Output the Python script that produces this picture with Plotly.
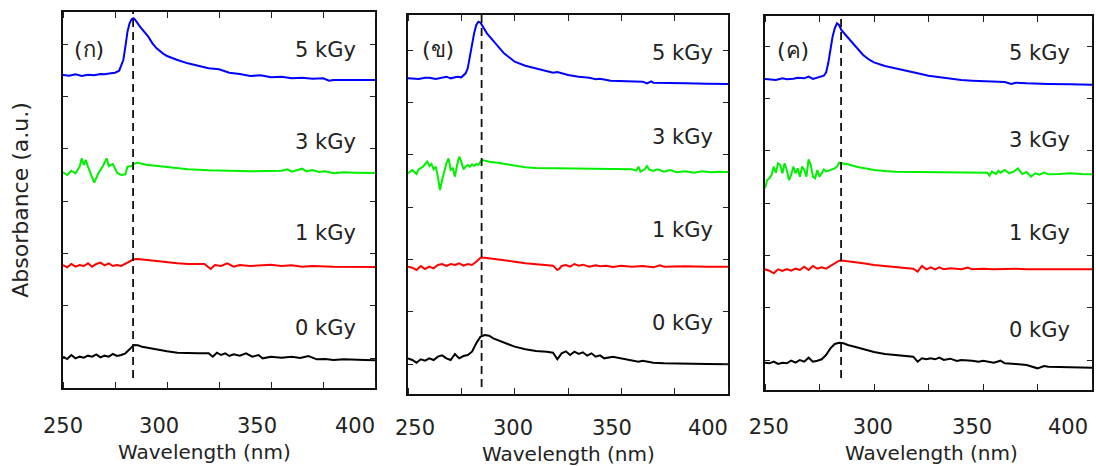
import plotly.graph_objects as go

# ---------------- data (arbitrary absorbance units, offset spectra) ----------------
panel_labels = ["(ก)", "(ข)", "(ค)"]
dose_labels = ["0 kGy", "1 kGy", "3 kGy", "5 kGy"]
peak_nm = [283.7, 284.5, 284.9]
tick_text = ["250", "300", "350", "400"]
minor_ticks = [250, 275, 300, 325, 350, 375, 400]

# ---- panel (ก) ----
wl_a_0 = [250,252,254,256,258,260,262,264,266,268,270,272,274,276,278,280,282,284,286,288,292,296,300,305,310,315,320,322,324,326,328,330,332,335,338,341,344,346,350,355,360,364,368,372,376,380,385,390,395,400]
ab_a_0 = [94,87,99,89,94,91,97,94,101,92,97,94,102,96,99,104,116,129,128,124,119,114,110,106,104,104,104,94,106,99,104,96,101,97,104,94,99,89,94,91,94,90,96,86,87,84,86,84,84,83]
wl_a_1 = [250,252,254,256,258,260,262,264,266,268,270,272,274,276,278,280,282,284,286,290,295,300,305,310,315,318,321,323,326,329,332,335,340,345,350,355,360,365,370,380,390,400]
ab_a_1 = [369,362,372,364,369,366,374,364,372,376,368,374,366,369,366,372,379,386,387,384,381,377,374,372,372,372,357,369,366,374,364,369,366,368,370,366,368,364,366,364,364,363]
wl_a_3 = [250,252,254,256,258,259,260,261,262,264,265,267,269,271,272,274,276,278,280,281,283,284,286,290,300,310,320,340,355,358,360,365,367,370,373,376,380,385,390,395,400]
ab_a_3 = [647,639,652,644,664,689,669,684,664,629,616,644,664,689,666,672,646,639,641,664,666,672,676,670,662,656,653,650,652,656,649,658,650,654,648,650,644,647,646,645,645]
wl_a_5 = [250,253,256,259,262,265,268,270,273,275,277,279,280,281,282,283,284,285,287,289,291,293,295,298,300,305,310,315,320,325,328,330,335,340,345,350,355,360,365,370,375,378,380,385,390,395,400]
ab_a_5 = [939,937,941,936,940,938,942,941,944,946,952,984,1024,1069,1094,1106,1109,1102,1084,1069,1054,1034,1019,1004,996,984,974,967,959,956,951,946,942,936,938,932,934,929,931,928,929,922,924,924,924,924,924]

# ---- panel (ข) ----
wl_b_0 = [250,252,254,256,258,260,262,264,266,268,270,272,274,276,278,280,282,284,286,288,290,292,295,300,305,310,315,318,320,322,324,326,328,330,332,334,336,338,340,342,346,350,353,355,358,360,365,370,375,380,390,400]
ab_b_0 = [107,102,94,104,100,107,102,112,116,107,102,120,107,114,117,127,152,172,177,175,167,162,154,142,134,129,127,124,104,122,128,117,127,120,125,115,122,112,116,107,112,107,102,100,97,100,94,92,92,90,90,89]
wl_b_1 = [250,252,254,256,258,260,262,264,266,268,270,272,274,276,278,280,282,284,286,290,295,300,305,310,315,318,320,321,322,324,326,328,330,332,335,338,340,343,346,350,355,360,365,368,370,375,380,390,400]
ab_b_1 = [382,379,372,384,375,382,377,387,390,384,390,387,392,385,390,387,397,409,409,406,402,397,392,389,387,385,372,376,384,387,382,390,385,388,382,386,383,385,381,385,382,384,380,386,382,383,383,382,382]
wl_b_3 = [250,252,254,255,257,259,260,261,262,263,264,265,266,267,268,269,270,271,272,273,274,275,276,277,278,279,280,281,282,283,284,285,288,292,296,300,305,310,320,330,340,350,355,357,358,359,361,362,363,365,367,370,373,376,380,384,388,392,396,400]
ab_b_3 = [662,672,660,674,682,697,684,690,674,682,652,612,642,672,692,707,672,677,652,687,712,697,674,682,687,682,689,684,690,687,697,702,697,694,689,684,680,678,677,676,676,675,674,670,682,667,674,684,674,669,674,667,672,665,668,664,668,665,667,666]
wl_b_5 = [250,255,258,260,263,265,268,270,273,275,277,278,279,280,281,282,283,284,285,287,289,291,293,295,298,300,305,310,315,318,320,325,330,335,338,340,345,350,355,360,362,364,365,370,375,380,390,400]
ab_b_5 = [947,945,949,949,945,947,952,947,952,950,962,977,1012,1052,1082,1107,1117,1114,1102,1082,1067,1052,1034,1022,1007,997,985,977,969,964,966,957,952,949,944,946,940,939,939,937,932,938,934,934,932,932,931,930]

# ---- panel (ค) ----
wl_c_0 = [250,252,254,256,258,260,262,264,266,268,270,272,274,276,278,280,282,284,286,288,292,296,300,305,310,315,318,320,322,324,326,328,330,332,335,338,340,345,348,350,355,358,360,365,370,375,378,380,390,400]
ab_c_0 = [82,80,85,78,82,80,88,82,90,85,97,85,88,92,105,125,138,142,140,135,128,120,114,108,105,103,100,85,95,92,95,92,97,90,94,87,90,88,85,88,82,88,80,78,75,65,72,70,68,67]
wl_c_1 = [250,252,254,256,258,260,262,264,266,268,270,272,274,276,278,280,282,284,286,290,295,300,305,310,315,318,320,321,322,324,326,328,330,332,335,340,343,345,350,355,360,365,370,380,390,400]
ab_c_1 = [362,358,350,362,357,363,358,364,360,370,360,372,364,368,364,372,380,388,388,385,380,375,372,370,368,364,355,362,372,362,368,362,368,362,365,362,367,362,364,362,363,364,362,362,362,362]
wl_c_3 = [250,251,252,253,254,255,256,257,258,259,260,261,262,263,264,265,266,267,268,269,270,271,272,273,274,275,276,277,278,280,282,283,284,285,288,292,296,300,305,310,320,330,340,350,352,353,354,356,357,358,360,362,364,366,368,370,372,374,376,378,380,385,390,395,400]
ab_c_3 = [605,630,635,645,670,652,680,675,650,680,660,630,645,670,650,665,640,670,660,640,692,675,640,635,660,640,650,662,655,660,665,670,682,680,677,670,665,660,657,655,654,653,652,650,652,643,655,648,658,652,660,650,655,665,648,654,640,650,646,652,647,648,650,648,647]
wl_c_5 = [250,255,258,260,263,265,268,270,272,275,277,278,279,280,281,282,283,284,285,287,289,291,293,295,298,300,305,310,315,320,325,330,335,340,345,350,355,360,363,365,370,375,380,390,400]
ab_c_5 = [933,930,935,932,934,937,935,940,933,938,943,952,980,1020,1060,1085,1100,1095,1080,1065,1050,1035,1018,1005,990,983,972,964,957,950,943,938,933,930,928,927,925,924,918,922,920,918,918,917,916]

# ---------------- assemble ----------------
spectra = [
    [(wl_a_0, ab_a_0), (wl_a_1, ab_a_1), (wl_a_3, ab_a_3), (wl_a_5, ab_a_5)],
    [(wl_b_0, ab_b_0), (wl_b_1, ab_b_1), (wl_b_3, ab_b_3), (wl_b_5, ab_b_5)],
    [(wl_c_0, ab_c_0), (wl_c_1, ab_c_1), (wl_c_3, ab_c_3), (wl_c_5, ab_c_5)],
]
line_colors = ["#000000", "#ff0000", "#00f000", "#0000ff"]

W, H = 1096, 466
# panel frames in pixels: (left, right, top, bottom)
frames = [(63, 375, 12, 388), (408, 728, 15, 394), (765, 1092, 16, 390)]
y_ranges = [[0, 1128], [0, 1137], [0, 1122]]
# where the tick labels sit (the original figure sets them slightly inset from the ticks)
label_pos = [[250, 296.2, 343.3, 390.4], [253.3, 299.2, 345.6, 390.6], [251.8, 299.5, 345.0, 389.0]]
label_standoff = [18, 14, 17]
label_y = [[180, 465, 738, 1014], [213, 492, 771, 1023], [180, 471, 750, 1011]]
label_x = [392, 394, 391]
panel_tag_pos = [(0.029, 0.90), (0.037, 0.908), (0.03, 0.909)]
xtitle_pos = [(0.455, 1 - 452 / 466), (0.5, 1 - 454 / 466), (0.51, 1 - 453 / 466)]
dash_low = [30, 21, 36]

FONT = "DejaVu Sans, Noto Sans, sans-serif"
TXT = "#222222"

fig = go.Figure()
annotations = []
layout_axes = {}
for i in range(3):
    xs = "x" if i == 0 else f"x{i+1}"
    ys = "y" if i == 0 else f"y{i+1}"
    for j, (wl, ab) in enumerate(spectra[i]):
        fig.add_trace(go.Scatter(x=wl, y=ab, mode="lines", xaxis=xs, yaxis=ys,
                                 line=dict(color=line_colors[j], width=2),
                                 showlegend=False, hoverinfo="skip"))
    fig.add_trace(go.Scatter(x=[peak_nm[i], peak_nm[i]], y=[dash_low[i], y_ranges[i][1]],
                             mode="lines", xaxis=xs, yaxis=ys,
                             line=dict(color="#111111", width=1.8, dash="8px,5px"),
                             showlegend=False, hoverinfo="skip"))
    l, r, t, b = frames[i]
    xkey = "xaxis" if i == 0 else f"xaxis{i+1}"
    ykey = "yaxis" if i == 0 else f"yaxis{i+1}"
    layout_axes[xkey] = dict(
        domain=[l / W, r / W], range=[250, 400], anchor=ys, automargin=False,
        tickmode="array", tickvals=label_pos[i], ticktext=tick_text, ticks="",
        minor=dict(tickmode="array", tickvals=minor_ticks, ticks="inside", ticklen=6,
                   tickwidth=1.2, tickcolor="#222", showgrid=False),
        showline=True, linecolor="#111", linewidth=2, mirror="ticks",
        showgrid=False, zeroline=False,
        tickfont=dict(family=FONT, size=21, color=TXT),
        ticklabelstandoff=label_standoff[i],
    )
    layout_axes[ykey] = dict(
        domain=[1 - b / H, 1 - t / H], range=y_ranges[i], anchor=xs, automargin=False,
        showticklabels=False, ticks="inside", ticklen=5, tickwidth=1.2, tickcolor="#222",
        tick0=90, dtick=157,
        showline=True, linecolor="#111", linewidth=2, mirror="ticks",
        showgrid=False, zeroline=False,
        title=dict(text="Absorbance (a.u.)" if i == 0 else "",
                   font=dict(family=FONT, size=22, color=TXT), standoff=26),
    )
    # x-axis title, placed as in the original (panel (ก)'s title sits slightly left of centre)
    annotations.append(dict(x=xtitle_pos[i][0], y=xtitle_pos[i][1], xref=f"{xs} domain", yref="paper",
                            text="Wavelength (nm)", showarrow=False, xanchor="center", yanchor="middle",
                            font=dict(family=FONT, size=20, color=TXT)))
    for j in range(4):
        annotations.append(dict(x=label_x[i], y=label_y[i][j], xref=xs, yref=ys,
                                text=dose_labels[j], showarrow=False, xanchor="right", yanchor="middle",
                                font=dict(family=FONT, size=21, color=TXT)))
    annotations.append(dict(x=panel_tag_pos[i][0], y=panel_tag_pos[i][1],
                            xref=f"{xs} domain", yref=f"{ys} domain",
                            text=panel_labels[i], showarrow=False, xanchor="left", yanchor="middle",
                            font=dict(family=FONT, size=22, color=TXT)))

fig.update_layout(
    width=W, height=H, margin=dict(l=0, r=0, t=0, b=0),
    paper_bgcolor="white", plot_bgcolor="white",
    annotations=annotations, **layout_axes,
)

fig.write_html("out.html", config={"displayModeBar": False},
               post_script="document.body.style.margin='0';document.body.style.overflow='hidden';")
